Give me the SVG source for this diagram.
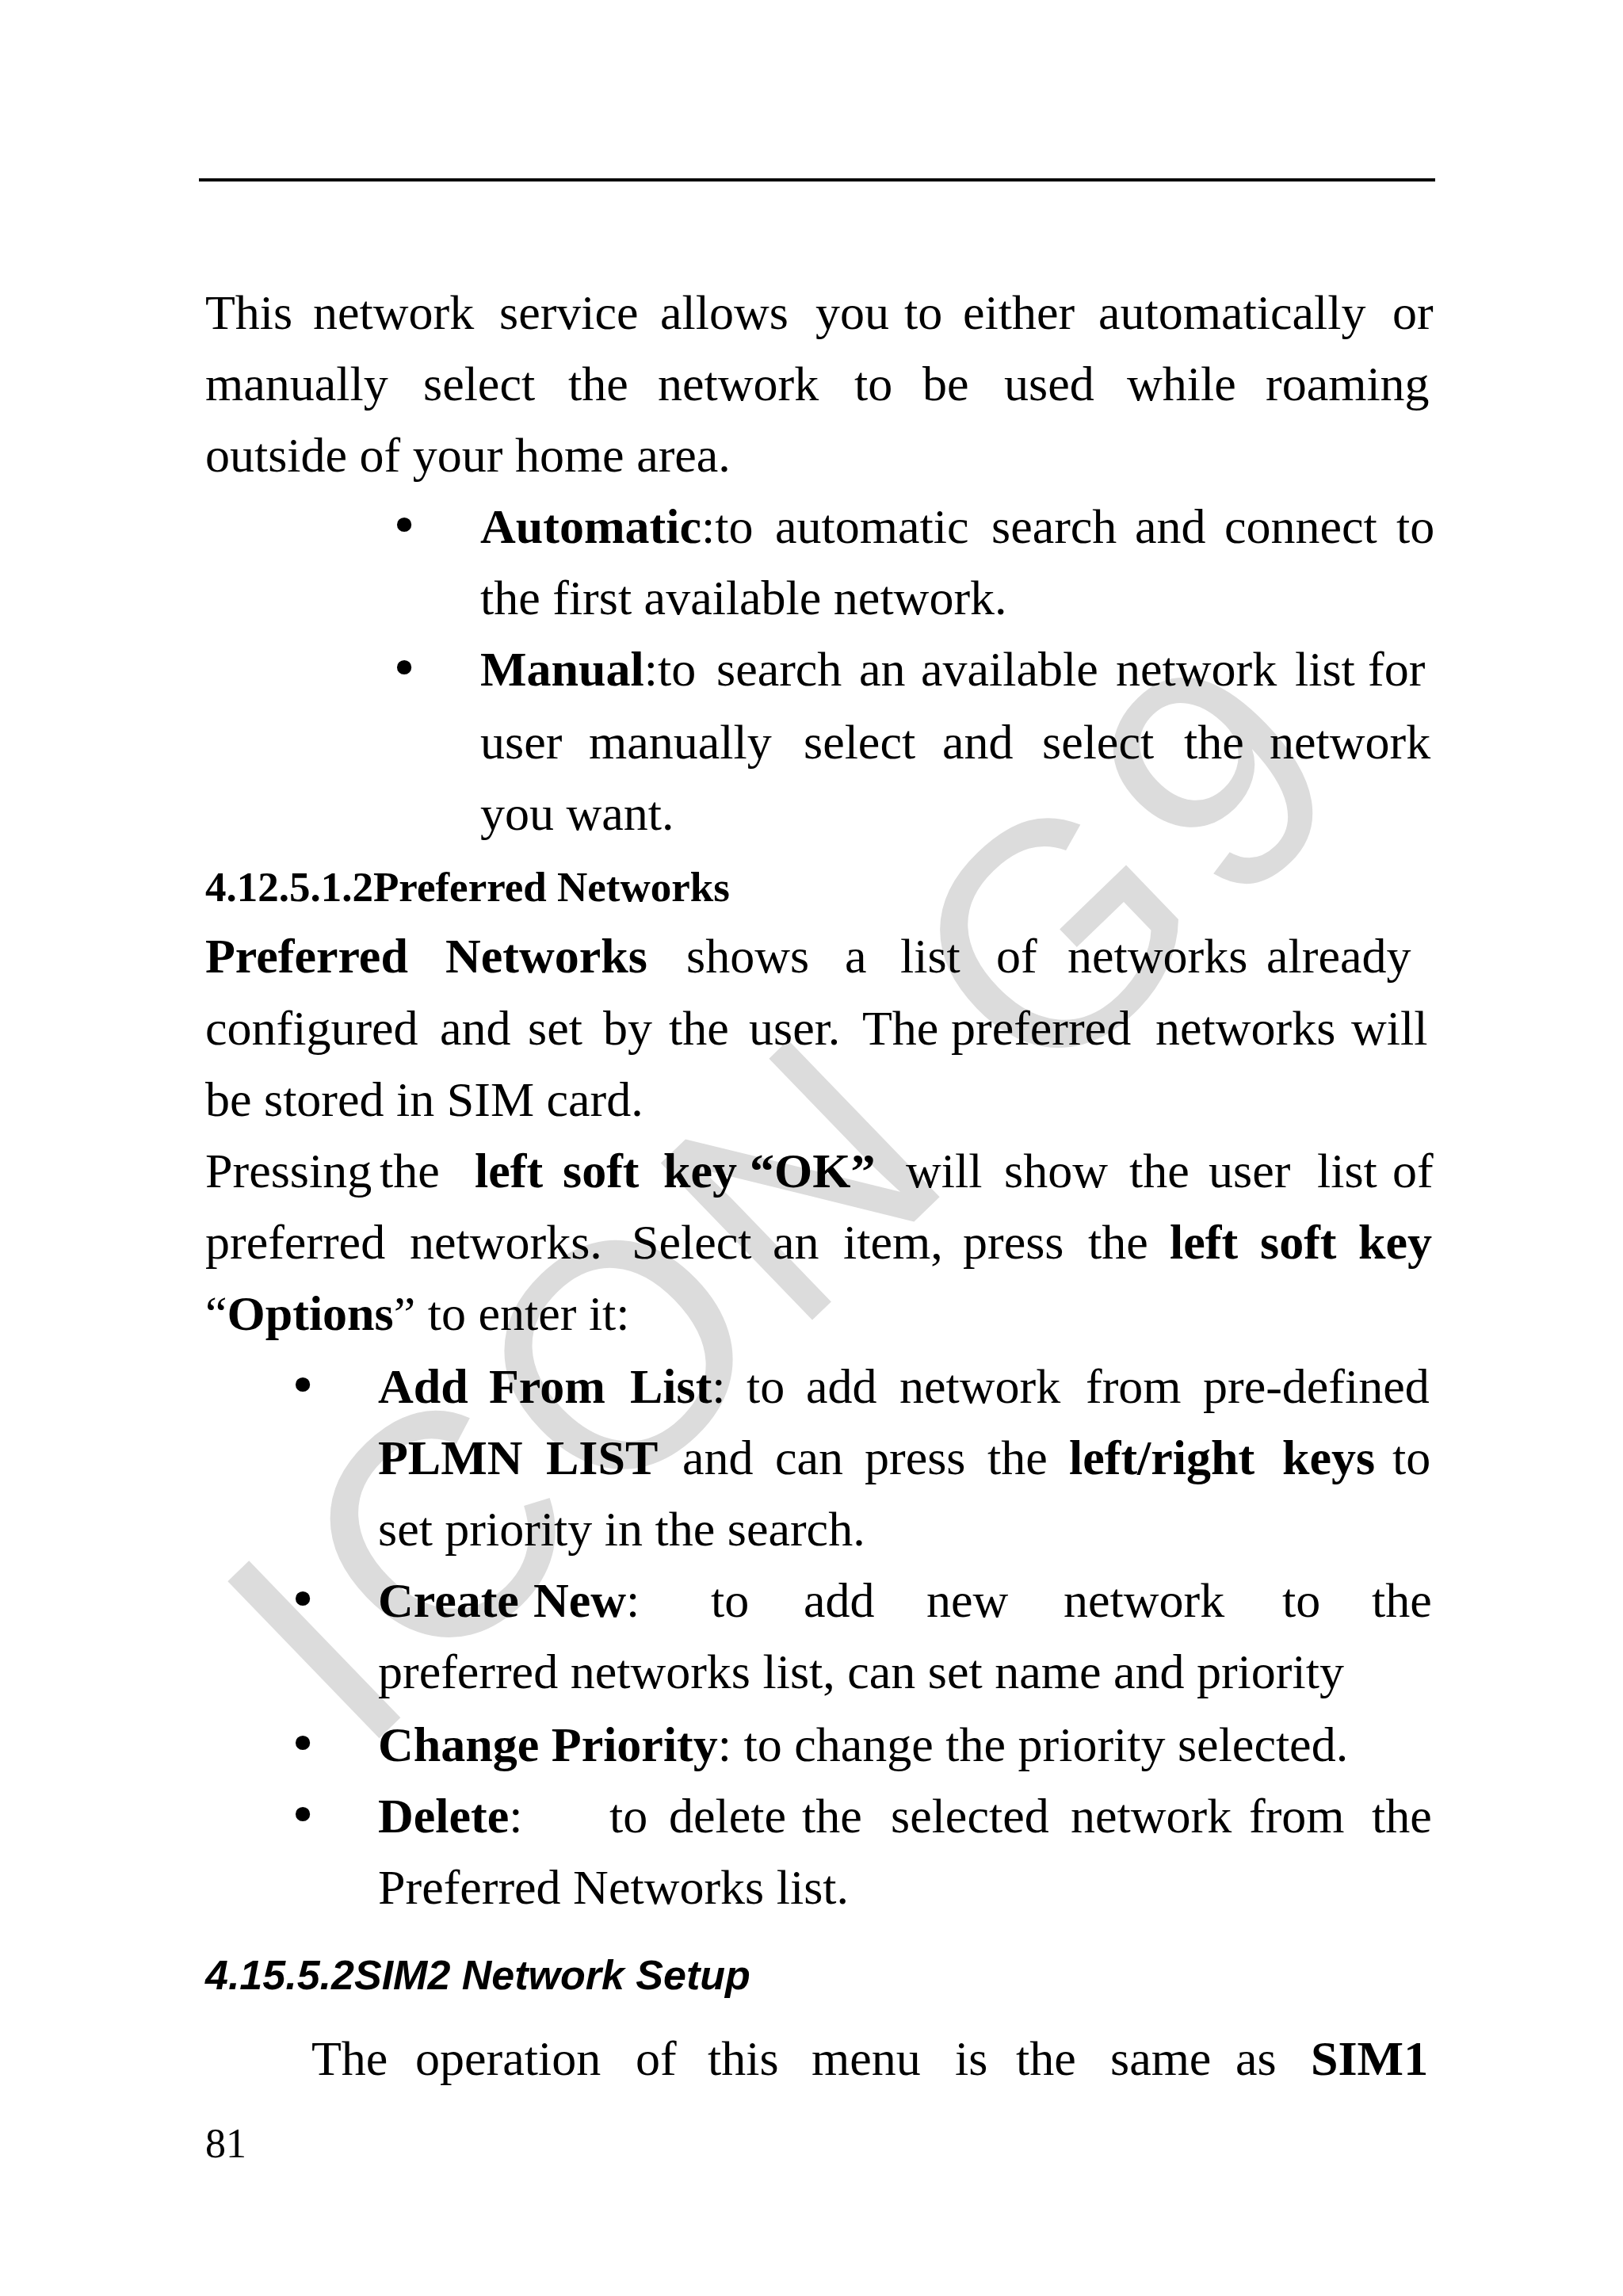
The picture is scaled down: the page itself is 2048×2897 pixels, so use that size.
<svg xmlns="http://www.w3.org/2000/svg" width="2048" height="2897" viewBox="0 0 2048 2897">
<style>
.t{font-family:"Liberation Serif",serif;font-size:62px;fill:#000}
.b{font-weight:bold}
.bl{font-family:"DejaVu Sans",sans-serif;font-size:63px;text-anchor:middle}
.h{font-family:"Liberation Serif",serif;font-size:53px;font-weight:bold}
.hs{font-family:"Liberation Sans",sans-serif;font-size:52px;font-weight:bold;font-style:italic}
.wm{font-family:"Liberation Sans",sans-serif;font-size:400px;fill:#dcdcdc}
</style>
<rect width="2048" height="2897" fill="#fff"/>
<text class="wm" transform="translate(1008,1535) rotate(-44)" text-anchor="middle" dominant-baseline="middle" textLength="1750" lengthAdjust="spacing">ICON G9</text>
<line x1="251" y1="227" x2="1811" y2="227" stroke="#000" stroke-width="4"/>
<g class="t">
<text y="415"><tspan x="259">This</tspan><tspan x="395">network</tspan><tspan x="630">service</tspan><tspan x="833">allows</tspan><tspan x="1029">you</tspan><tspan x="1141">to</tspan><tspan x="1215">either</tspan><tspan x="1386">automatically</tspan><tspan x="1757">or</tspan></text>
<text y="505"><tspan x="259">manually</tspan><tspan x="534">select</tspan><tspan x="717">the</tspan><tspan x="830">network</tspan><tspan x="1078">to</tspan><tspan x="1164">be</tspan><tspan x="1267">used</tspan><tspan x="1422">while</tspan><tspan x="1597">roaming</tspan></text>
<text x="259" y="595">outside of your home area.</text>
<text class="bl" x="510" y="685">•</text>
<text y="685"><tspan x="606" class="b">Automatic</tspan><tspan>:to</tspan><tspan x="978">automatic</tspan><tspan x="1251">search</tspan><tspan x="1432">and</tspan><tspan x="1545">connect</tspan><tspan x="1762">to</tspan></text>
<text x="606" y="775">the first available network.</text>
<text class="bl" x="510" y="865">•</text>
<text y="865"><tspan x="606" class="b">Manual</tspan><tspan>:to</tspan><tspan x="904">search</tspan><tspan x="1084">an</tspan><tspan x="1162">available</tspan><tspan x="1408">network</tspan><tspan x="1634">list</tspan><tspan x="1726">for</tspan></text>
<text y="957"><tspan x="606">user</tspan><tspan x="743">manually</tspan><tspan x="1014">select</tspan><tspan x="1189">and</tspan><tspan x="1315">select</tspan><tspan x="1494">the</tspan><tspan x="1602">network</tspan></text>
<text x="606" y="1047">you want.</text>
<text class="h" x="259" y="1137">4.12.5.1.2Preferred Networks</text>
<text y="1227"><tspan x="259" class="b">Preferred</tspan><tspan x="562" class="b">Networks</tspan><tspan x="866">shows</tspan><tspan x="1066">a</tspan><tspan x="1136">list</tspan><tspan x="1257">of</tspan><tspan x="1347">networks</tspan><tspan x="1598">already</tspan></text>
<text y="1318"><tspan x="259">configured</tspan><tspan x="555">and</tspan><tspan x="666">set</tspan><tspan x="761">by</tspan><tspan x="844">the</tspan><tspan x="945">user.</tspan><tspan x="1088">The</tspan><tspan x="1200">preferred</tspan><tspan x="1458">networks</tspan><tspan x="1705">will</tspan></text>
<text x="259" y="1408">be stored in SIM card.</text>
<text y="1498"><tspan x="259">Pressing</tspan><tspan x="479">the</tspan><tspan x="599" class="b">left</tspan><tspan x="710" class="b">soft</tspan><tspan x="837" class="b">key</tspan><tspan x="946" class="b">“OK”</tspan><tspan x="1143">will</tspan><tspan x="1267">show</tspan><tspan x="1425">the</tspan><tspan x="1525">user</tspan><tspan x="1662">list</tspan><tspan x="1757">of</tspan></text>
<text y="1588"><tspan x="259">preferred</tspan><tspan x="517">networks.</tspan><tspan x="797">Select</tspan><tspan x="975">an</tspan><tspan x="1064">item,</tspan><tspan x="1215">press</tspan><tspan x="1373">the</tspan><tspan x="1476" class="b">left</tspan><tspan x="1590" class="b">soft</tspan><tspan x="1714" class="b">key</tspan></text>
<text x="259" y="1678">“<tspan class="b">Options</tspan>” to enter it:</text>
<text class="bl" x="382" y="1770">•</text>
<text y="1770"><tspan x="477" class="b">Add</tspan><tspan x="617" class="b">From</tspan><tspan x="795" class="b">List</tspan><tspan>:</tspan><tspan x="942">to</tspan><tspan x="1017">add</tspan><tspan x="1135">network</tspan><tspan x="1370">from</tspan><tspan x="1518">pre-defined</tspan></text>
<text y="1860"><tspan x="477" class="b">PLMN</tspan><tspan x="689" class="b">LIST</tspan><tspan x="861">and</tspan><tspan x="978">can</tspan><tspan x="1091">press</tspan><tspan x="1246">the</tspan><tspan x="1349" class="b">left/right</tspan><tspan x="1618" class="b">keys</tspan><tspan x="1757">to</tspan></text>
<text x="477" y="1950">set priority in the search.</text>
<text class="bl" x="382" y="2040">•</text>
<text y="2040"><tspan x="477" class="b">Create</tspan><tspan x="673" class="b">New</tspan><tspan>:</tspan><tspan x="897">to</tspan><tspan x="1014">add</tspan><tspan x="1169">new</tspan><tspan x="1342">network</tspan><tspan x="1618">to</tspan><tspan x="1731">the</tspan></text>
<text x="477" y="2130">preferred networks list, can set name and priority</text>
<text class="bl" x="382" y="2222">•</text>
<text x="477" y="2222"><tspan class="b">Change Priority</tspan>: to change the priority selected.</text>
<text class="bl" x="382" y="2312">•</text>
<text y="2312"><tspan x="477" class="b">Delete</tspan><tspan>:</tspan><tspan x="769">to</tspan><tspan x="844">delete</tspan><tspan x="1012">the</tspan><tspan x="1124">selected</tspan><tspan x="1351">network</tspan><tspan x="1576">from</tspan><tspan x="1731">the</tspan></text>
<text x="477" y="2402">Preferred Networks list.</text>
<text class="hs" x="259" y="2510">4.15.5.2SIM2 Network Setup</text>
<text y="2618"><tspan x="393">The</tspan><tspan x="524">operation</tspan><tspan x="802">of</tspan><tspan x="893">this</tspan><tspan x="1024">menu</tspan><tspan x="1205">is</tspan><tspan x="1282">the</tspan><tspan x="1401">same</tspan><tspan x="1559">as</tspan><tspan x="1654" class="b">SIM1</tspan></text>
<text x="259" y="2722" font-size="52">81</text>
</g>
</svg>
